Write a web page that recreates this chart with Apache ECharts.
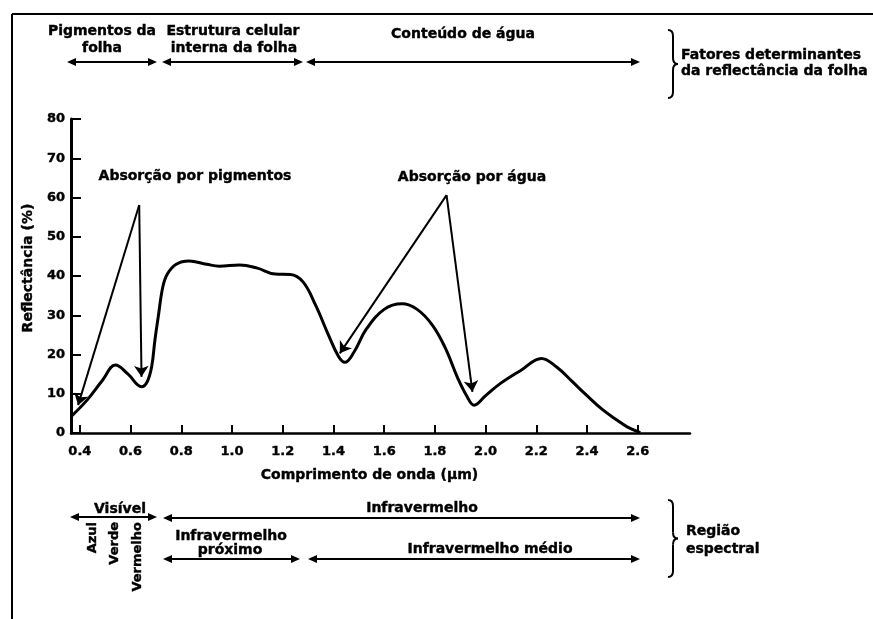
<!DOCTYPE html>
<html>
<head>
<meta charset="utf-8">
<script src="https://cdn.jsdelivr.net/npm/echarts@6/dist/echarts.min.js"></script>
<style>html,body{margin:0;padding:0;background:#fff}#c{width:873px;height:619px}</style>
</head>
<body>
<div id="c"></div>
<script>
// Reflectance curve of a green leaf
const wavelength = [0.367, 0.43, 0.49, 0.54, 0.59, 0.643, 0.665, 0.683, 0.696, 0.709, 0.727, 0.745, 0.78, 0.83, 0.90, 0.95, 1.03, 1.10, 1.17, 1.23, 1.28, 1.33, 1.38, 1.42, 1.445, 1.48, 1.53, 1.60, 1.67, 1.73, 1.79, 1.84, 1.89, 1.925, 1.955, 2.0, 2.06, 2.14, 2.22, 2.28, 2.34, 2.40, 2.46, 2.52, 2.56, 2.61];
const reflectance = [4.3, 8.5, 13.5, 17.3, 15.0, 11.8, 13.0, 16.9, 23.7, 29.6, 37.2, 40.5, 43.0, 43.8, 43.0, 42.5, 42.8, 42.0, 40.5, 40.4, 38.5, 32.5, 25.0, 19.5, 18.0, 20.5, 26.5, 31.5, 32.9, 31.5, 27.5, 21.8, 14.0, 9.5, 7.1, 9.5, 12.7, 16.0, 19.0, 16.8, 13.2, 9.5, 6.0, 3.2, 1.5, 0.1];

// Absorption arrows: apex and arrow tips [wavelength, reflectance]
const pigmentApex = [0.634, 58.1];
const pigmentTips = [[0.393, 7.1], [0.643, 14.3]];
const waterApex = [1.846, 60.6];
const waterTips = [[1.425, 20.3], [1.948, 10.5]];

// Tick labels
const xTicks = [0.4, 0.6, 0.8, 1.0, 1.2, 1.4, 1.6, 1.8, 2.0, 2.2, 2.4, 2.6];
const yTicks = [0, 10, 20, 30, 40, 50, 60, 70, 80];

const FF = '"DejaVu Sans", sans-serif';
const chart = echarts.init(document.getElementById('c'));

function txt(x, y, text, opts) {
  opts = opts || {};
  return {
    type: 'text', x: x, y: y, rotation: opts.rotation || 0,
    style: {
      text: text, fill: '#000', fontFamily: FF, fontWeight: 'bold',
      fontSize: opts.size || 14, align: opts.align || 'center', verticalAlign: 'middle',
      stroke: '#000', lineWidth: 0.4
    }
  };
}
function dblArrow(x1, x2, y) {
  const h = 9, w = 4;
  return {
    type: 'group', children: [
      { type: 'line', shape: { x1: x1 + h - 1, y1: y, x2: x2 - h + 1, y2: y }, style: { stroke: '#000', lineWidth: 2 } },
      { type: 'polygon', shape: { points: [[x1, y], [x1 + h, y - w], [x1 + h, y + w]] }, style: { fill: '#000' } },
      { type: 'polygon', shape: { points: [[x2, y], [x2 - h, y - w], [x2 - h, y + w]] }, style: { fill: '#000' } }
    ]
  };
}
function brace(x, y0, y1) {
  const m = (y0 + y1) / 2, d = 5;
  const st = { stroke: '#000', lineWidth: 2, fill: null };
  const bz = (ax, ay, cx, cy, bx, by) => ({ type: 'bezierCurve', shape: { x1: ax, y1: ay, cpx1: cx, cpy1: cy, x2: bx, y2: by }, style: st });
  const ln = (ax, ay, bx, by) => ({ type: 'line', shape: { x1: ax, y1: ay, x2: bx, y2: by }, style: st });
  return {
    type: 'group', children: [
      bz(x, y0, x + d, y0, x + d, y0 + 6),
      ln(x + d, y0 + 6, x + d, m - 6),
      bz(x + d, m - 6, x + d, m, x + 2 * d, m),
      bz(x + 2 * d, m, x + d, m, x + d, m + 6),
      ln(x + d, m + 6, x + d, y1 - 6),
      bz(x + d, y1 - 6, x + d, y1, x, y1)
    ]
  };
}

const arrowData = pigmentTips.map(t => ({ coords: [pigmentApex, t] }))
  .concat(waterTips.map(t => ({ coords: [waterApex, t] })));

const labelFont = { color: '#000', fontFamily: FF, fontWeight: 'bold', fontSize: 13, textBorderColor: '#000', textBorderWidth: 0.4 };

chart.setOption({
  animation: false,
  backgroundColor: '#fff',
  grid: { left: 71, right: 183, top: 119, bottom: 186, containLabel: false },
  xAxis: {
    type: 'value', min: 0.365, max: 2.806,
    name: 'Comprimento de onda (µm)', nameLocation: 'middle', nameGap: 35,
    nameTextStyle: Object.assign({}, labelFont, { fontSize: 14, padding: [0, 22, 0, 0] }),
    axisLine: { lineStyle: { color: '#000', width: 2.5 } },
    axisTick: { inside: true, length: 8, customValues: xTicks, lineStyle: { color: '#000', width: 2 } },
    axisLabel: Object.assign({ customValues: xTicks, formatter: v => v.toFixed(1), margin: 12 }, labelFont),
    splitLine: { show: false }
  },
  yAxis: {
    type: 'value', min: 0, max: 80, interval: 10,
    name: 'Reflectância (%)', nameLocation: 'middle', nameGap: 36,
    nameTextStyle: Object.assign({}, labelFont, { fontSize: 14, padding: [0, 0, 0, 16] }),
    axisLine: { show: true, lineStyle: { color: '#000', width: 3 } },
    axisTick: { show: true, inside: true, length: 10, customValues: yTicks, lineStyle: { color: '#000', width: 2 } },
    axisLabel: Object.assign({ customValues: yTicks, margin: 6 }, labelFont),
    splitLine: { show: false }
  },
  series: [
    {
      type: 'line', name: 'Reflectância',
      data: wavelength.map((w, i) => [w, reflectance[i]]),
      smooth: 0.4, showSymbol: false, symbol: 'none',
      lineStyle: { color: '#000', width: 3 }
    },
    {
      type: 'lines', coordinateSystem: 'cartesian2d', clip: false,
      symbol: ['none', 'arrow'], symbolSize: 11,
      lineStyle: { color: '#000', width: 2, opacity: 1 },
      data: arrowData
    }
  ],
  graphic: [
    { type: 'line', shape: { x1: 12, y1: 14, x2: 873, y2: 14 }, style: { stroke: '#000', lineWidth: 2 } },
    { type: 'line', shape: { x1: 12, y1: 14, x2: 12, y2: 619 }, style: { stroke: '#000', lineWidth: 2 } },
    // top factors
    txt(102, 31, 'Pigmentos da'), txt(102, 48, 'folha'),
    txt(233, 31, 'Estrutura celular'), txt(234, 48, 'interna da folha'),
    txt(463, 34, 'Conteúdo de água'),
    dblArrow(67, 157, 62), dblArrow(162, 303, 62), dblArrow(306, 640, 62),
    brace(668, 30, 98),
    txt(681, 55, 'Fatores determinantes', { align: 'left' }),
    txt(681, 71, 'da reflectância da folha', { align: 'left' }),
    // in-plot annotations
    txt(195, 176, 'Absorção por pigmentos'),
    txt(472, 177, 'Absorção por água'),
    // spectral regions
    txt(120, 509, 'Visível'),
    dblArrow(70, 157, 517),
    txt(93, 522, 'Azul', { rotation: Math.PI / 2, align: 'right', size: 13 }),
    txt(115, 522, 'Verde', { rotation: Math.PI / 2, align: 'right', size: 13 }),
    txt(138, 522, 'Vermelho', { rotation: Math.PI / 2, align: 'right', size: 13 }),
    txt(422, 508, 'Infravermelho'),
    dblArrow(163, 640, 518),
    txt(231, 536, 'Infravermelho'), txt(230, 550, 'próximo'),
    dblArrow(163, 300, 559),
    txt(490, 549, 'Infravermelho médio'),
    dblArrow(308, 640, 559),
    brace(668, 500, 577),
    txt(686, 531, 'Região', { align: 'left' }),
    txt(686, 549, 'espectral', { align: 'left' })
  ]
});
</script>
</body>
</html>
